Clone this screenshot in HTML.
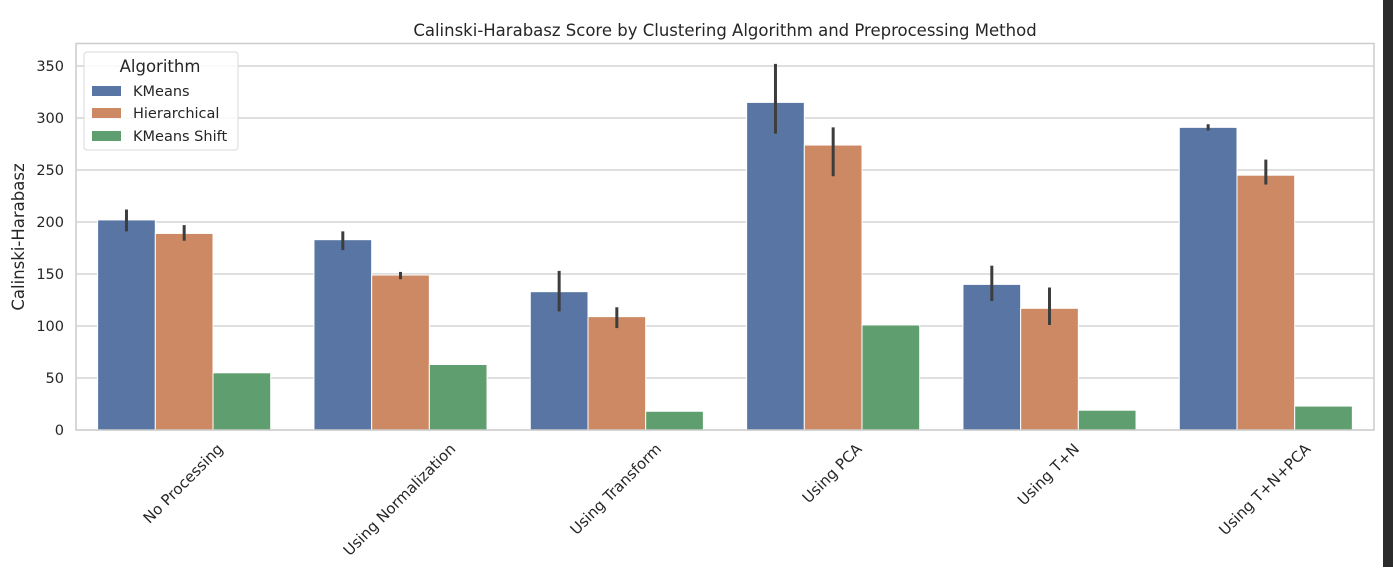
<!DOCTYPE html>
<html><head><meta charset="utf-8"><style>
body{margin:0;background:#fff;width:1393px;height:567px;overflow:hidden;font-family:"DejaVu Sans","Liberation Sans",sans-serif}
svg text{font-family:"DejaVu Sans","Liberation Sans",sans-serif;fill:#262626}
</style></head><body>
<svg id="chart" width="1393" height="567" viewBox="0 0 1393 567">
<rect x="1383" y="0" width="10" height="567" fill="#2b2b2b"/>
<text x="725" y="36" font-size="16.5" text-anchor="middle">Calinski-Harabasz Score by Clustering Algorithm and Preprocessing Method</text>
<g id="grid"></g><g id="bars"></g><g id="errs"></g><g id="xt"></g><g id="yt"></g>
<rect x="76" y="43.5" width="1298" height="386.5" fill="none" stroke="#cccccc" stroke-width="1.5"/>
<text transform="translate(24,237) rotate(-90)" font-size="16.5" text-anchor="middle">Calinski-Harabasz</text>
<g>
<rect x="84" y="52" width="154" height="98" rx="3" fill="#fff" fill-opacity="0.85" stroke="#d8d8d8"/>
<text x="160" y="72" font-size="16.5" text-anchor="middle">Algorithm</text>
<rect x="92" y="86" width="29" height="10" fill="#5875a4"/>
<text x="133" y="96" font-size="14.5">KMeans</text>
<rect x="92" y="108" width="29" height="10" fill="#cc8963"/>
<text x="133" y="118" font-size="14.5">Hierarchical</text>
<rect x="92" y="131" width="29" height="10" fill="#5f9e6e"/>
<text x="133" y="141" font-size="14.5">KMeans Shift</text>
</g>
</svg>
<script>
const categories=["No Processing","Using Normalization","Using Transform","Using PCA","Using T+N","Using T+N+PCA"];
const seriesNames=["KMeans","Hierarchical","KMeans Shift"];
const kmeans=[202,183,133,315,140,291];
const hierarchical=[189,149,109,274,117,245];
const shift=[55,63,18,101,19,23];
const kmeansLo=[191,173,114,285,124,288];
const kmeansHi=[212,191,153,352,158,294];
const hierLo=[182,145,98,244,101,236];
const hierHi=[197,152,118,291,137,260];
const yTicks=[0,50,100,150,200,250,300,350];
const NS="http://www.w3.org/2000/svg";
const L=76,R=1374,B=430,T=43.5;
const y=v=>B-v*(364/350);
const gw=(R-L)/categories.length, bw=gw*0.8/3;
const colors=["#5875a4","#cc8963","#5f9e6e"];
function mk(t,a,p){const e=document.createElementNS(NS,t);for(const k in a)e.setAttribute(k,a[k]);p.appendChild(e);return e;}
const grid=document.getElementById('grid'),yt=document.getElementById('yt');
yTicks.forEach(v=>{
 const l=mk('line',{x1:L,x2:R,y1:y(v),y2:y(v),stroke:'#cccccc','stroke-width':1.2},grid);
 
 
 const t=mk('text',{x:L-12,y:y(v)+5,'font-size':14.5,'text-anchor':'end'},yt);t.textContent=v;
 
 
});
const vals=[kmeans,hierarchical,shift],lo=[kmeansLo,hierLo,null],hi=[kmeansHi,hierHi,null];
const bars=document.getElementById('bars'),errs=document.getElementById('errs'),xt=document.getElementById('xt');
categories.forEach((c,i)=>{
 const cx=L+gw*(i+0.5);
 vals.forEach((s,j)=>{
  const x=cx-1.5*bw+j*bw;
  const r=mk('rect',{x:x,y:y(s[i]),width:bw,height:B-y(s[i]),fill:colors[j],stroke:'#fff','stroke-width':1},bars);
  
  
  if(lo[j]){const e=mk('line',{x1:x+bw/2,x2:x+bw/2,y1:y(lo[j][i]),y2:y(hi[j][i]),stroke:'#3d3d3d','stroke-width':3},errs);
   
   }
 });
 const t=mk('text',{'font-size':15,'text-anchor':'middle','dominant-baseline':'central'},xt);t.textContent=c;
 
 
 const w=t.getComputedTextLength(),h=15;
 const cy=441+(w+h)*0.7071/2;
 t.setAttribute('x',cx-1);t.setAttribute('y',cy);
 t.setAttribute('transform',`rotate(-45 ${cx-1} ${cy})`);
});
</script>
</body></html>
